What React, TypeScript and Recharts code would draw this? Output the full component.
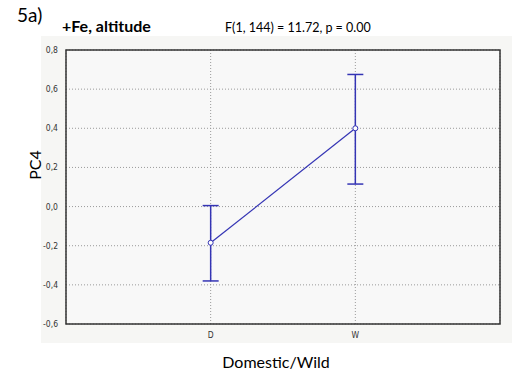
import { ComposedChart, Line, XAxis, YAxis, CartesianGrid, ErrorBar, ReferenceArea } from 'recharts';

const categories = ['D', 'W'];
const means = [-0.185, 0.4];
const lowers = [-0.38, 0.115];
const uppers = [0.005, 0.675];
const yTicks = [-0.6, -0.4, -0.2, 0, 0.2, 0.4, 0.6, 0.8];

const data = categories.map((c, i) => ({
  x: i + 1,
  name: c,
  mean: means[i],
  err: [means[i] - lowers[i], uppers[i] - means[i]],
}));

const BLUE = '#3434b4';
const LABEL_FONT = 'Lato, "Open Sans", sans-serif';
const TICK_FONT = '"DejaVu Sans Condensed", "Liberation Sans Narrow", Arial, sans-serif';

export default function App() {
  return (
    <div style={{ position: 'fixed', left: 0, top: 0, width: 515, height: 374, background: '#fff' }}>
      <div style={{ position: 'absolute', left: 41, top: 36, width: 471, height: 307, background: '#f6f6f4' }} />
      <div style={{ position: 'absolute', left: 0, top: 0 }}>
        <ComposedChart width={515} height={374} data={data} margin={{ top: 50, right: 15, bottom: 30, left: 36 }}>
          <CartesianGrid stroke="#9a9a9a" strokeDasharray="1 2" fill="#f8f8f8" />
          <XAxis
            dataKey="x"
            type="number"
            domain={[0, 3]}
            ticks={[1, 2]}
            tickFormatter={(v: number) => categories[v - 1] ?? ''}
            tick={{ fill: '#333', fontSize: 8.5, fontFamily: TICK_FONT }}
            tickLine={false}
            axisLine={false}
            height={20}
          />
          <YAxis
            type="number"
            domain={[-0.6, 0.8]}
            ticks={yTicks}
            tickFormatter={(v: number) => v.toFixed(1).replace('.', ',')}
            tick={{ fill: '#333', fontSize: 8.5, fontFamily: TICK_FONT }}
            tickLine={false}
            axisLine={false}
            width={30}
          />
          <ReferenceArea x1={0} x2={3} y1={-0.6} y2={0.8} fill="none" stroke="#333" strokeWidth={1.5} />
          <Line
            dataKey="mean"
            stroke={BLUE}
            strokeWidth={1.2}
            isAnimationActive={false}
            dot={{ r: 2.5, fill: '#fff', stroke: BLUE, strokeWidth: 1 }}
            activeDot={false}
          >
            <ErrorBar dataKey="err" direction="y" width={8} stroke={BLUE} strokeWidth={1.5} />
          </Line>
        </ComposedChart>
      </div>
      <svg width={515} height={374} style={{ position: 'absolute', left: 0, top: 0, pointerEvents: 'none' }}>
        <text x={17} y={22} fontSize={19} fontFamily={LABEL_FONT} fill="#000">5a)</text>
        <text x={62} y={32} fontSize={16} fontWeight="bold" fontFamily={LABEL_FONT} fill="#000">+Fe, altitude</text>
        <text x={225} y={32} fontSize={12.5} fontFamily={LABEL_FONT} fill="#000">F(1, 144) = 11.72, p = 0.00</text>
        <text x={41} y={165} fontSize={16} fontFamily={LABEL_FONT} fill="#000" textAnchor="middle" transform="rotate(-90 41 165)">PC4</text>
        <text x={276} y={368} fontSize={16} fontFamily={LABEL_FONT} fill="#000" textAnchor="middle">Domestic/Wild</text>
      </svg>
    </div>
  );
}
